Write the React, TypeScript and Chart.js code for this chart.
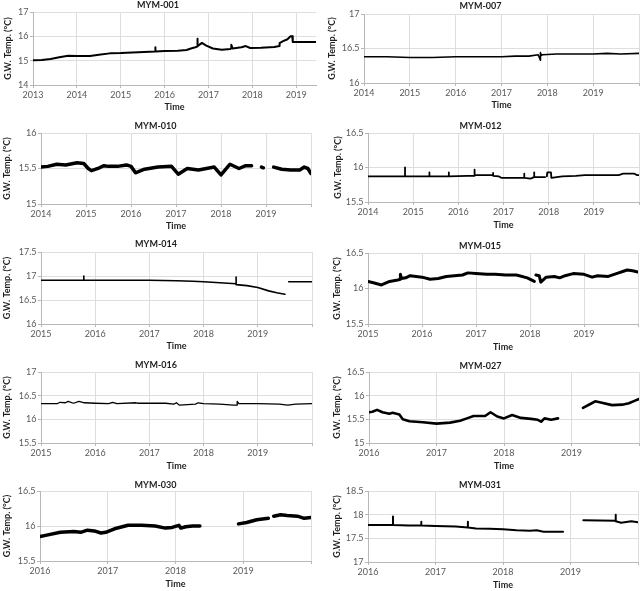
import React, { useEffect, useRef } from "react";
import { Chart, registerables } from "chart.js";

Chart.register(...registerables);

const FONT = 'Lato, "Open Sans", "Liberation Sans", sans-serif';

// Groundwater temperature records, time in decimal years, temperature in °C.
// null marks a gap in the logger record.

const t001 = [2013.0, 2013.2, 2013.4, 2013.6, 2013.8, 2014.0, 2014.3, 2014.5, 2014.75, 2015.0, 2015.4, 2015.79, 2015.79, 2015.79, 2016.0, 2016.3, 2016.5, 2016.6, 2016.7, 2016.74, 2016.74, 2016.76, 2016.85, 2016.95, 2017.1, 2017.3, 2017.5, 2017.52, 2017.52, 2017.55, 2017.75, 2017.85, 2017.95, 2018.2, 2018.5, 2018.62, 2018.62, 2018.7, 2018.8, 2018.87, 2018.91, 2018.92, 2019.45];
const v001 = [15.02, 15.03, 15.07, 15.14, 15.2, 15.19, 15.19, 15.24, 15.3, 15.31, 15.35, 15.38, 15.55, 15.38, 15.4, 15.41, 15.44, 15.5, 15.55, 15.58, 15.9, 15.6, 15.73, 15.62, 15.5, 15.45, 15.48, 15.5, 15.65, 15.5, 15.55, 15.6, 15.52, 15.53, 15.56, 15.6, 15.72, 15.8, 15.88, 16.0, 16.0, 15.77, 15.77];

const t007 = [2014.0, 2014.5, 2015.0, 2015.5, 2016.0, 2016.5, 2017.0, 2017.3, 2017.6, 2017.8, 2017.85, 2017.85, 2017.87, 2017.9, 2018.2, 2018.6, 2019.0, 2019.3, 2019.6, 2020.0];
const v007 = [16.38, 16.38, 16.37, 16.37, 16.38, 16.38, 16.38, 16.39, 16.39, 16.41, 16.33, 16.44, 16.4, 16.41, 16.42, 16.42, 16.42, 16.43, 16.42, 16.43];

const t010 = [2014.0, 2014.15, 2014.35, 2014.55, 2014.8, 2014.95, 2015.05, 2015.12, 2015.3, 2015.4, 2015.5, 2015.7, 2015.9, 2016.0, 2016.1, 2016.3, 2016.6, 2016.9, 2017.05, 2017.25, 2017.5, 2017.85, 2018.0, 2018.2, 2018.4, 2018.55, 2018.68, 2018.8, 2018.9, 2018.94, 2019.05, 2019.17, 2019.35, 2019.55, 2019.75, 2019.85, 2019.93, 2020.0];
const v010 = [15.52, 15.53, 15.56, 15.55, 15.58, 15.57, 15.5, 15.47, 15.51, 15.54, 15.53, 15.53, 15.55, 15.53, 15.44, 15.49, 15.52, 15.53, 15.42, 15.5, 15.48, 15.52, 15.41, 15.56, 15.5, 15.54, 15.54, null, 15.52, 15.51, null, 15.52, 15.49, 15.48, 15.48, 15.52, 15.5, 15.43];

const t012 = [2014.0, 2014.82, 2014.82, 2014.82, 2015.36, 2015.36, 2015.36, 2015.79, 2015.79, 2015.79, 2016.2, 2016.36, 2016.36, 2016.36, 2016.5, 2016.77, 2016.77, 2016.77, 2016.9, 2016.95, 2017.2, 2017.46, 2017.46, 2017.46, 2017.6, 2017.68, 2017.68, 2017.68, 2017.92, 2017.94, 2017.96, 2017.97, 2018.05, 2018.06, 2018.3, 2018.6, 2018.8, 2019.2, 2019.55, 2019.65, 2019.9, 2019.95, 2020.0];
const v012 = [15.87, 15.87, 16.0, 15.87, 15.87, 15.93, 15.87, 15.87, 15.93, 15.87, 15.88, 15.88, 15.97, 15.89, 15.89, 15.89, 15.92, 15.88, 15.87, 15.85, 15.85, 15.85, 15.91, 15.85, 15.84, 15.86, 15.93, 15.86, 15.86, null, 15.87, 15.93, 15.93, 15.85, 15.87, 15.88, 15.89, 15.89, 15.89, 15.91, 15.91, 15.89, 15.89];

const t014 = [2015.0, 2015.5, 2015.79, 2015.79, 2015.79, 2016.5, 2017.0, 2017.5, 2017.8, 2018.0, 2018.3, 2018.6, 2018.6, 2018.6, 2018.8, 2019.0, 2019.2, 2019.35, 2019.45, 2019.5, 2019.53, 2019.57, 2020.0];
const v014 = [16.91, 16.91, 16.91, 17.0, 16.91, 16.91, 16.91, 16.9, 16.89, 16.88, 16.86, 16.84, 16.98, 16.82, 16.8, 16.76, 16.69, 16.65, 16.63, 16.62, null, 16.88, 16.88];

const t015 = [2015.0, 2015.1, 2015.25, 2015.4, 2015.55, 2015.6, 2015.6, 2015.62, 2015.7, 2015.78, 2016.0, 2016.15, 2016.3, 2016.45, 2016.6, 2016.75, 2016.85, 2017.0, 2017.2, 2017.35, 2017.55, 2017.75, 2017.95, 2018.08, 2018.1, 2018.11, 2018.17, 2018.2, 2018.3, 2018.45, 2018.55, 2018.65, 2018.8, 2019.0, 2019.15, 2019.25, 2019.45, 2019.6, 2019.8, 2019.9, 2020.0];
const v015 = [16.1, 16.08, 16.05, 16.1, 16.12, 16.13, 16.2, 16.14, 16.15, 16.18, 16.16, 16.13, 16.14, 16.17, 16.18, 16.19, 16.22, 16.21, 16.2, 16.2, 16.19, 16.19, 16.15, 16.1, null, 16.19, 16.18, 16.09, 16.16, 16.17, 16.15, 16.18, 16.21, 16.2, 16.16, 16.18, 16.17, 16.21, 16.26, 16.25, 16.23];

const t016 = [2015.0, 2015.3, 2015.35, 2015.45, 2015.5, 2015.6, 2015.7, 2015.8, 2016.0, 2016.25, 2016.32, 2016.4, 2016.75, 2016.8, 2017.0, 2017.3, 2017.45, 2017.5, 2017.55, 2017.7, 2017.85, 2017.9, 2018.0, 2018.3, 2018.55, 2018.6, 2018.62, 2018.62, 2018.65, 2019.0, 2019.4, 2019.55, 2019.7, 2020.0];
const v016 = [16.33, 16.33, 16.36, 16.35, 16.38, 16.34, 16.38, 16.35, 16.34, 16.33, 16.36, 16.33, 16.35, 16.34, 16.34, 16.34, 16.32, 16.35, 16.3, 16.31, 16.32, 16.35, 16.33, 16.32, 16.3, 16.3, 16.3, 16.38, 16.33, 16.33, 16.32, 16.3, 16.32, 16.33];

const t027 = [2016.0, 2016.05, 2016.12, 2016.2, 2016.3, 2016.35, 2016.45, 2016.5, 2016.6, 2016.8, 2017.0, 2017.2, 2017.35, 2017.45, 2017.55, 2017.65, 2017.72, 2017.8, 2017.9, 2018.0, 2018.12, 2018.25, 2018.4, 2018.5, 2018.55, 2018.6, 2018.7, 2018.8, 2019.0, 2019.17, 2019.3, 2019.35, 2019.45, 2019.6, 2019.75, 2019.85, 2019.95, 2020.0];
const v027 = [15.65, 15.66, 15.7, 15.65, 15.62, 15.64, 15.6, 15.5, 15.46, 15.44, 15.41, 15.43, 15.47, 15.52, 15.57, 15.57, 15.57, 15.65, 15.56, 15.52, 15.59, 15.53, 15.51, 15.49, 15.45, 15.52, 15.49, 15.52, null, 15.74, 15.84, 15.88, 15.85, 15.8, 15.81, 15.84, 15.9, 15.93];

const t030 = [2016.0, 2016.1, 2016.3, 2016.5, 2016.6, 2016.7, 2016.8, 2016.9, 2016.97, 2017.1, 2017.3, 2017.5, 2017.7, 2017.85, 2017.95, 2018.05, 2018.08, 2018.15, 2018.25, 2018.36, 2018.6, 2018.93, 2019.05, 2019.2, 2019.37, 2019.41, 2019.45, 2019.55, 2019.65, 2019.8, 2019.9, 2020.0];
const v030 = [15.85, 15.87, 15.91, 15.92, 15.91, 15.94, 15.93, 15.9, 15.91, 15.96, 16.01, 16.01, 16.0, 15.97, 15.98, 16.01, 15.97, 15.99, 16.0, 16.0, null, 16.03, 16.05, 16.09, 16.11, null, 16.14, 16.16, 16.15, 16.14, 16.11, 16.12];

const t031 = [2016.0, 2016.37, 2016.37, 2016.37, 2016.6, 2016.79, 2016.79, 2016.79, 2017.0, 2017.3, 2017.48, 2017.48, 2017.48, 2017.6, 2017.8, 2018.0, 2018.2, 2018.4, 2018.5, 2018.6, 2018.89, 2019.0, 2019.19, 2019.67, 2019.67, 2019.67, 2019.75, 2019.9, 2020.0];
const v031 = [17.78, 17.78, 17.96, 17.78, 17.77, 17.77, 17.85, 17.77, 17.76, 17.75, 17.73, 17.85, 17.73, 17.71, 17.7, 17.69, 17.67, 17.66, 17.67, 17.64, 17.64, null, 17.88, 17.87, 18.0, 17.86, 17.83, 17.86, 17.84];

type Well = {
  name: string;
  t: number[];
  v: (number | null)[];
  xRange: [number, number];
  yRange: [number, number];
  yStep: number;
  lineWidth: number;
};

const WELLS: Well[] = [
  { name: "MYM-001", t: t001, v: v001, xRange: [2013, 2019.45], yRange: [14, 17], yStep: 1, lineWidth: 2 },
  { name: "MYM-007", t: t007, v: v007, xRange: [2014, 2020], yRange: [16, 17], yStep: 0.5, lineWidth: 1.6 },
  { name: "MYM-010", t: t010, v: v010, xRange: [2014, 2020], yRange: [15, 16], yStep: 0.5, lineWidth: 3.5 },
  { name: "MYM-012", t: t012, v: v012, xRange: [2014, 2020], yRange: [15.5, 16.5], yStep: 0.5, lineWidth: 1.8 },
  { name: "MYM-014", t: t014, v: v014, xRange: [2015, 2020], yRange: [16, 17.5], yStep: 0.5, lineWidth: 1.6 },
  { name: "MYM-015", t: t015, v: v015, xRange: [2015, 2020], yRange: [15.5, 16.5], yStep: 0.5, lineWidth: 3 },
  { name: "MYM-016", t: t016, v: v016, xRange: [2015, 2020], yRange: [15.5, 17], yStep: 0.5, lineWidth: 1.3 },
  { name: "MYM-027", t: t027, v: v027, xRange: [2016, 2020], yRange: [15, 16.5], yStep: 0.5, lineWidth: 2.6 },
  { name: "MYM-030", t: t030, v: v030, xRange: [2016, 2020], yRange: [15.5, 16.5], yStep: 0.5, lineWidth: 3.5 },
  { name: "MYM-031", t: t031, v: v031, xRange: [2016, 2020], yRange: [17, 18.5], yStep: 0.5, lineWidth: 2 },
];

// Panel placement on the page and plot-area edges inside each panel.
type Frame = {
  x: number; y: number; w: number; h: number;
  left: number; top: number; right: number; bottom: number;
  titleY: number; yTitleX: number; timeY: number;
};

const FRAMES: Frame[] = [
  { x: 0, y: 0, w: 322, h: 118, left: 33, top: 12, right: 316, bottom: 85, titleY: 5, yTitleX: 7.6, timeY: 106.7 },
  { x: 322, y: 0, w: 321, h: 118, left: 42, top: 14, right: 317, bottom: 83, titleY: 5.7, yTitleX: 10, timeY: 105 },
  { x: 0, y: 118, w: 322, h: 118, left: 41, top: 15, right: 311, bottom: 86, titleY: 8.3, yTitleX: 7.5, timeY: 108.3 },
  { x: 322, y: 118, w: 321, h: 118, left: 46, top: 15, right: 317, bottom: 84, titleY: 8, yTitleX: 16.5, timeY: 107.3 },
  { x: 0, y: 236, w: 322, h: 118, left: 41, top: 16, right: 312, bottom: 88, titleY: 8.3, yTitleX: 7.5, timeY: 110 },
  { x: 322, y: 236, w: 321, h: 118, left: 46, top: 17, right: 316, bottom: 88, titleY: 10, yTitleX: 15, timeY: 111 },
  { x: 0, y: 354, w: 322, h: 118, left: 41, top: 18, right: 312, bottom: 89, titleY: 11, yTitleX: 7.5, timeY: 111.7 },
  { x: 322, y: 354, w: 321, h: 118, left: 47, top: 18, right: 317, bottom: 89, titleY: 11.7, yTitleX: 15, timeY: 111.7 },
  { x: 0, y: 472, w: 322, h: 119, left: 40, top: 19, right: 311, bottom: 89, titleY: 12.7, yTitleX: 7.5, timeY: 111.7 },
  { x: 322, y: 472, w: 321, h: 119, left: 46, top: 19, right: 316, bottom: 90, titleY: 13.3, yTitleX: 15, timeY: 113.3 },
];

const TICK_COLOR = "#595959";
const TEXT_COLOR = "#1e1e1e";
const GRID_COLOR = "#dedede";
const AXIS_COLOR = "#b8b8b8";

function WellPanel({ well, frame }: { well: Well; frame: Frame }) {
  const ref = useRef<HTMLCanvasElement>(null);

  useEffect(() => {
    const canvas = ref.current;
    if (!canvas) return;
    const { w, h, left, top, right, bottom, titleY, yTitleX, timeY } = frame;
    const [xMin, xMax] = well.xRange;
    const [yMin, yMax] = well.yRange;
    const points = well.t.map((x, i) => ({ x, y: well.v[i] }));
    const titlePadTop = titleY - 4.5;

    const chart = new Chart(canvas, {
      type: "line",
      data: {
        datasets: [
          {
            data: points as any,
            borderColor: "#000",
            backgroundColor: "#000",
            borderWidth: well.lineWidth,
            pointRadius: 0,
            tension: 0,
            spanGaps: false,
            borderJoinStyle: "round",
            borderCapStyle: "round",
          },
        ],
      },
      options: {
        responsive: false,
        animation: false,
        devicePixelRatio: 1,
        parsing: false as any,
        normalized: true,
        layout: { padding: { left: 0, top: 0, right: w - right, bottom: 0 } },
        plugins: {
          legend: { display: false },
          tooltip: { enabled: false },
          title: {
            display: true,
            text: well.name,
            color: TEXT_COLOR,
            font: { family: FONT, size: 9, weight: "bold", lineHeight: 1 },
            padding: { top: titlePadTop, bottom: top - titlePadTop - 9 },
          },
        },
        scales: {
          x: {
            type: "linear",
            min: xMin,
            max: xMax,
            afterFit: (s: any) => {
              s.height = h - bottom;
              s.paddingLeft = 0;
              s.paddingRight = 0;
            },
            grid: { color: GRID_COLOR, lineWidth: 1, drawTicks: true, tickLength: 3, tickColor: AXIS_COLOR },
            border: { display: true, color: AXIS_COLOR, width: 1 },
            ticks: {
              stepSize: 1,
              includeBounds: false,
              padding: 1.5,
              maxRotation: 0,
              autoSkip: false,
              color: TICK_COLOR,
              font: { family: FONT, size: 9 },
              callback: (value: any) => (value === xMax && xMax === 2020 ? "" : String(value)),
            },
            title: {
              display: true,
              text: "Time",
              color: TEXT_COLOR,
              font: { family: FONT, size: 9, weight: "bold", lineHeight: 1.2 },
              padding: { top: 0, bottom: h - timeY - 5.4 },
            },
          },
          y: {
            type: "linear",
            min: yMin,
            max: yMax,
            afterFit: (s: any) => {
              s.width = left;
            },
            grid: { color: GRID_COLOR, lineWidth: 1, drawTicks: true, tickLength: 3, tickColor: AXIS_COLOR },
            border: { display: true, color: AXIS_COLOR, width: 1 },
            ticks: {
              stepSize: well.yStep,
              padding: 1.5,
              color: TICK_COLOR,
              font: { family: FONT, size: 9 },
              callback: (value: any) => String(Math.round(Number(value) * 10) / 10),
            },
            title: {
              display: true,
              text: "G.W. Temp. (°C)",
              color: TEXT_COLOR,
              font: { family: FONT, size: 9, weight: "bold", lineHeight: 1.2 },
              padding: { top: yTitleX - 5.4, bottom: 0 },
            },
          },
        },
      } as any,
    });

    return () => chart.destroy();
  }, [well, frame]);

  return (
    <div style={{ position: "absolute", left: frame.x, top: frame.y, width: frame.w, height: frame.h }}>
      <canvas ref={ref} width={frame.w} height={frame.h} style={{ display: "block" }} />
    </div>
  );
}

export default function App() {
  return (
    <div
      style={{
        position: "fixed",
        left: 0,
        top: 0,
        width: 643,
        height: 591,
        background: "#ffffff",
        overflow: "hidden",
      }}
    >
      {WELLS.map((well, i) => (
        <WellPanel key={well.name} well={well} frame={FRAMES[i]} />
      ))}
    </div>
  );
}
